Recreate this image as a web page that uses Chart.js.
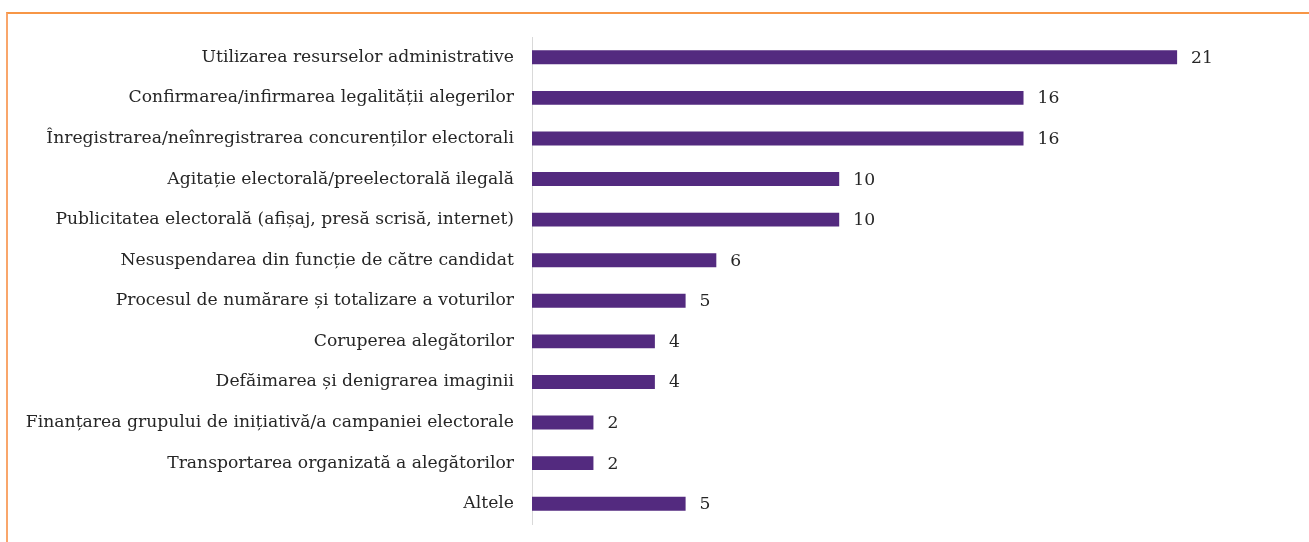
<!DOCTYPE html>
<html>
<head>
<meta charset="utf-8">
<script src="https://cdn.jsdelivr.net/npm/chart.js@4.4.1/dist/chart.umd.min.js"></script>
<style>
  html, body { margin: 0; padding: 0; background: #fff; }
  #wrap { position: relative; width: 1309px; height: 542px; }
  #frame {
    position: absolute; left: 6px; top: 12px; right: 0; bottom: 0;
    border-top: 2px solid #f79646; border-left: 2px solid #f9a66b;
  }
  canvas { position: absolute; left: 0; top: 0; }
</style>
</head>
<body>
<div id="wrap">
  <div id="frame"></div>
  <canvas id="chart" width="1309" height="542"></canvas>
</div>
<script>
const categories = [
  'Utilizarea resurselor administrative',
  'Confirmarea/infirmarea legalității alegerilor',
  'Înregistrarea/neînregistrarea concurenților electorali',
  'Agitație electorală/preelectorală ilegală',
  'Publicitatea electorală (afișaj, presă scrisă, internet)',
  'Nesuspendarea din funcție de către candidat',
  'Procesul de numărare și totalizare a voturilor',
  'Coruperea alegătorilor',
  'Defăimarea și denigrarea imaginii',
  'Finanțarea grupului de inițiativă/a campaniei electorale',
  'Transportarea organizată a alegătorilor',
  'Altele'
];
const values = [21, 16, 16, 10, 10, 6, 5, 4, 4, 2, 2, 5];

const FONT = '"DejaVu Serif", "Liberation Serif", serif';
const FONT_SIZE = 17.2;

// draws the numbers to the right of each bar
const valueLabels = {
  id: 'valueLabels',
  afterDatasetsDraw(chart) {
    const ctx = chart.ctx;
    const meta = chart.getDatasetMeta(0);
    ctx.save();
    ctx.font = FONT_SIZE + 'px ' + FONT;
    ctx.fillStyle = '#262626';
    ctx.textAlign = 'left';
    ctx.textBaseline = 'middle';
    meta.data.forEach((bar, i) => {
      ctx.fillText(String(values[i]), bar.x + 14, bar.y + 1);
    });
    ctx.restore();
  }
};

new Chart(document.getElementById('chart'), {
  type: 'bar',
  data: {
    labels: categories,
    datasets: [{
      data: values,
      backgroundColor: '#532a7f',
      borderWidth: 0,
      barPercentage: 0.7,
      categoryPercentage: 0.49
    }]
  },
  options: {
    indexAxis: 'y',
    responsive: false,
    animation: false,
    layout: { padding: { top: 37, bottom: 18, left: 0, right: 9 } },
    plugins: { legend: { display: false }, tooltip: { enabled: false } },
    scales: {
      x: {
        display: false,
        min: 0,
        max: 25
      },
      y: {
        afterFit(scale) {
          scale.width = 532;
          // let the layout padding alone decide the plot height
          scale.paddingTop = 0;
          scale.paddingBottom = 0;
        },
        grid: { display: false, drawTicks: false },
        border: { display: true, color: '#d9d9d9', width: 1 },
        ticks: {
          color: '#262626',
          padding: 18,
          font: { family: FONT, size: FONT_SIZE }
        }
      }
    }
  },
  plugins: [valueLabels]
});
</script>
</body>
</html>
